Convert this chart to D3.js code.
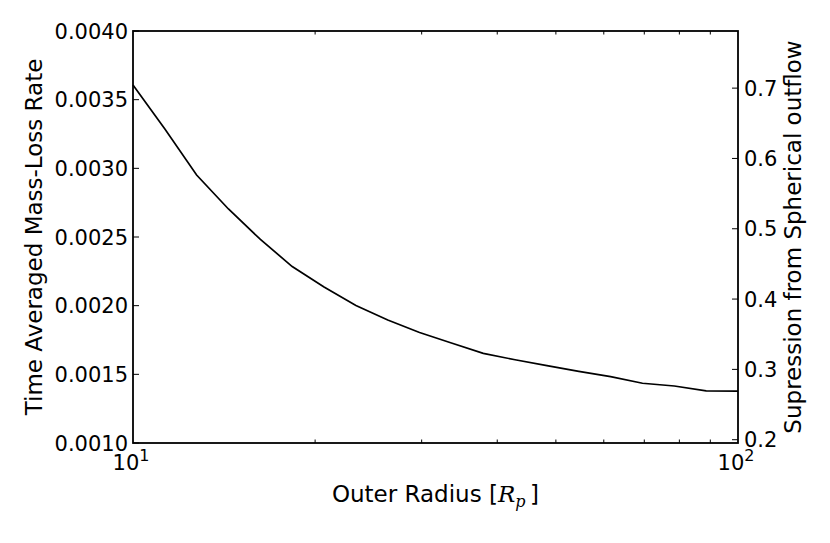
<!DOCTYPE html>
<html>
<head>
<meta charset="utf-8">
<script src="https://cdn.jsdelivr.net/npm/d3@7"></script>
<style>
  html, body { margin: 0; padding: 0; background: #fff; }
  svg { display: block; }
  text { font-family: "DejaVu Sans", sans-serif; fill: #000; }
</style>
</head>
<body>
<svg id="chart" width="830" height="543"></svg>
<script>
// ---- data ----
const radii = [10.0, 11.29, 12.74, 14.38, 16.24, 18.33, 20.69, 23.36, 26.37, 29.76,
               33.60, 37.93, 42.81, 48.33, 54.56, 61.58, 69.52, 78.48, 88.59, 100.0];
const massLoss = [0.003607, 0.003286, 0.002951, 0.002704, 0.002482, 0.002285, 0.002136, 0.002001,
                  0.001896, 0.001805, 0.001728, 0.001653, 0.001606, 0.001563, 0.001521, 0.001483,
                  0.001435, 0.001415, 0.001379, 0.001378];
const leftTicks = [0.0010, 0.0015, 0.0020, 0.0025, 0.0030, 0.0035, 0.0040];
const rightTicks = [0.2, 0.3, 0.4, 0.5, 0.6, 0.7];
const xMajorTicks = [10, 100];
const xMinorTicks = [20, 30, 40, 50, 60, 70, 80, 90];
const sphericalRate = 0.00512; // normalisation for right axis

// ---- layout ----
const svg = d3.select("#chart");
const L = 133, R = 738, T = 31, B = 443;
const fs = 21, lfs = 23;

const x = d3.scaleLog().domain([10, 100]).range([L, R]);
const y = d3.scaleLinear().domain([0.0010, 0.0040]).range([B, T]);
const y2 = d3.scaleLinear().domain([0.0010 / sphericalRate, 0.0040 / sphericalRate]).range([B, T]);

// line
const line = d3.line().x((d, i) => x(radii[i])).y(d => y(d));
svg.append("path").datum(massLoss)
  .attr("d", line).attr("fill", "none").attr("stroke", "#000").attr("stroke-width", 1.7);

// left axis ticks
const gL = svg.append("g");
gL.selectAll("line").data(leftTicks).join("line")
  .attr("x1", L).attr("x2", L + 6).attr("y1", d => y(d)).attr("y2", d => y(d))
  .attr("stroke", "#000").attr("stroke-width", 1);
gL.selectAll("text").data(leftTicks).join("text")
  .attr("x", L - 5).attr("y", d => y(d)).attr("dy", "0.36em")
  .attr("text-anchor", "end").attr("font-size", fs)
  .text(d => d3.format(".4f")(d));

// right axis ticks
const gR = svg.append("g");
gR.selectAll("line").data(rightTicks).join("line")
  .attr("x1", R - 6).attr("x2", R).attr("y1", d => y2(d)).attr("y2", d => y2(d))
  .attr("stroke", "#000").attr("stroke-width", 1);
gR.selectAll("text").data(rightTicks).join("text")
  .attr("x", R + 6).attr("y", d => y2(d)).attr("dy", "0.36em")
  .attr("text-anchor", "start").attr("font-size", fs)
  .text(d => d3.format(".1f")(d));

// x minor ticks (top and bottom)
const gX = svg.append("g");
gX.selectAll("line.b").data(xMinorTicks).join("line").attr("class", "b")
  .attr("x1", d => x(d)).attr("x2", d => x(d)).attr("y1", B).attr("y2", B - 3.5)
  .attr("stroke", "#000").attr("stroke-width", 1);
gX.selectAll("line.t").data(xMinorTicks).join("line").attr("class", "t")
  .attr("x1", d => x(d)).attr("x2", d => x(d)).attr("y1", T).attr("y2", T + 3.5)
  .attr("stroke", "#000").attr("stroke-width", 1);

// x major tick labels 10^n
const xl = gX.selectAll("text").data(xMajorTicks).join("text")
  .attr("x", d => x(d) - 2).attr("y", 470).attr("text-anchor", "middle").attr("font-size", fs);
xl.append("tspan").text("10");
xl.append("tspan").attr("dy", -9).attr("font-size", 16).text(d => Math.round(Math.log10(d)));

// frame
svg.append("rect").attr("x", L).attr("y", T).attr("width", R - L).attr("height", B - T)
  .attr("fill", "none").attr("stroke", "#000").attr("stroke-width", 1.8);

// axis labels
svg.append("text").attr("transform", `translate(42,${(T + B) / 2}) rotate(-90)`)
  .attr("text-anchor", "middle").attr("font-size", lfs)
  .text("Time Averaged Mass-Loss Rate");

svg.append("text").attr("transform", `translate(801,${(T + B) / 2}) rotate(-90)`)
  .attr("text-anchor", "middle").attr("font-size", lfs)
  .text("Supression from Spherical outflow");

const xt = svg.append("text").attr("x", (L + R) / 2).attr("y", 502)
  .attr("text-anchor", "middle").attr("font-size", lfs);
xt.append("tspan").text("Outer Radius [");
xt.append("tspan").attr("font-family", "DejaVu Serif, serif").attr("font-style", "italic").text("R");
xt.append("tspan").attr("font-family", "DejaVu Serif, serif").attr("font-style", "italic")
  .attr("font-size", 16).attr("dy", 5).text("p");
xt.append("tspan").attr("dy", -5).text("\u2009]");
</script>
</body>
</html>
